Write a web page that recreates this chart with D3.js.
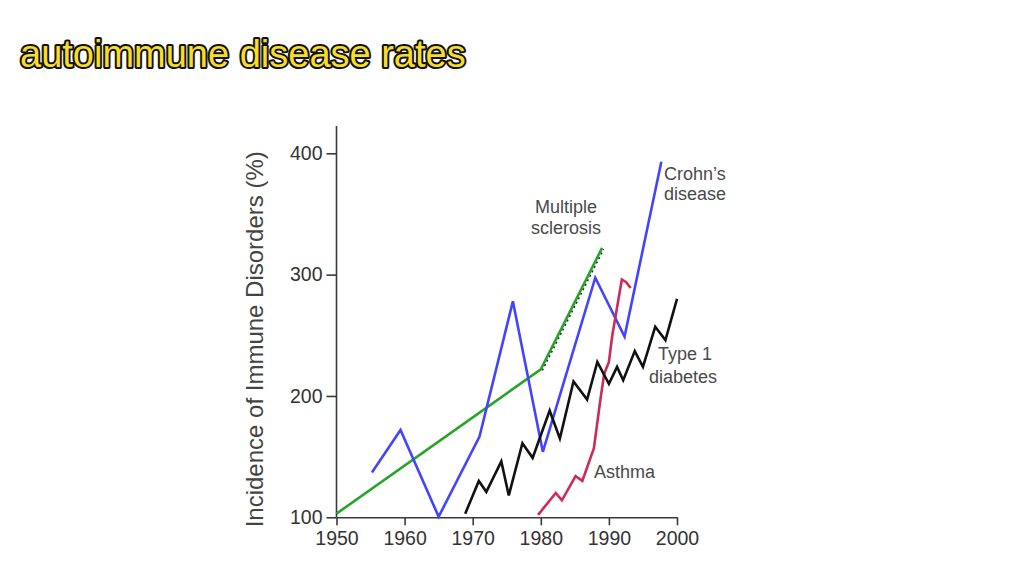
<!DOCTYPE html>
<html><head><meta charset="utf-8">
<script src="https://cdn.jsdelivr.net/npm/d3@7"></script>
<style>body{margin:0;background:#fff;}svg{display:block;}</style>
</head><body>
<svg id="c" width="1024" height="576"></svg>
<script>
const xTicks = [1950, 1960, 1970, 1980, 1990, 2000];
const yTicks = [100, 200, 300, 400];
const msYears = [1950, 1980, 1989];
const msValues = [103, 222, 322];
const crohnYears = [1955.2, 1959.4, 1965, 1971, 1975.9, 1980.3, 1988, 1992.3, 1997.7];
const crohnValues = [137, 172, 100.5, 166.5, 278, 154, 297.5, 249, 393];
const t1dYears = [1968.9, 1970.9, 1972, 1974.2, 1975.3, 1977.3, 1978.8, 1981.3, 1982.8, 1984.8, 1986.8, 1988.3, 1990.0, 1991.2, 1992.1, 1993.8, 1995.0, 1996.8, 1998.3, 2000];
const t1dValues = [103, 130, 121, 146, 118, 161, 149, 188, 165, 212, 197, 228, 210, 224, 213, 237, 224, 257, 246, 280];
const asthmaYears = [1979.6, 1982.2, 1983.1, 1985.1, 1986.1, 1987.8, 1988.7, 1989.3, 1990.0, 1990.5, 1991.9, 1992.5, 1993.2];
const asthmaValues = [102, 120, 114, 134, 130, 157, 195, 218, 228, 250, 296, 294, 289];

const svg = d3.select("#c");
const x = d3.scaleLinear().domain([1950, 2000]).range([336.5, 677]);
const y = d3.scaleLinear().domain([100, 400]).range([517.3, 153.3]);

// title
svg.append("text").attr("x", 20).attr("y", 67)
  .attr("font-family", "Liberation Sans, Arial, sans-serif").attr("font-size", 38)
  .attr("fill", "#f7dc2a").attr("stroke", "#111").attr("stroke-width", 4)
  .attr("paint-order", "stroke").attr("stroke-linejoin", "round")
  .text("autoimmune disease rates");

const axisColor = "#3a3a3a";
const fontFam = "Liberation Sans, Arial, sans-serif";

// y axis
const yAxis = svg.append("g").attr("transform", `translate(${x(1950)},0)`)
  .call(d3.axisLeft(y).tickValues(yTicks).tickSize(10).tickPadding(4).tickSizeOuter(0));
yAxis.select(".domain").remove();
yAxis.append("line").attr("x1", 0).attr("x2", 0).attr("y1", 126).attr("y2", y(100))
  .attr("stroke", axisColor).attr("stroke-width", 1.6);
// x axis
const xAxis = svg.append("g").attr("transform", `translate(0,${y(100)})`)
  .call(d3.axisBottom(x).tickValues(xTicks).tickFormat(d3.format("d")).tickSize(8).tickPadding(6).tickSizeOuter(0));
xAxis.select(".domain").attr("stroke", axisColor).attr("stroke-width", 1.6);
[yAxis, xAxis].forEach(g => {
  g.selectAll(".tick line").attr("stroke", axisColor).attr("stroke-width", 1.6);
  g.selectAll(".tick text").attr("fill", "#333").attr("font-size", 19.5).attr("font-family", fontFam);
});

svg.append("text").attr("transform", `translate(263,${(y(100)+y(400))/2 + 4}) rotate(-90)`)
  .attr("text-anchor", "middle").attr("font-family", fontFam).attr("font-size", 24).attr("fill", "#444")
  .text("Incidence of Immune Disorders (%)");

const line = d3.line().x(d => x(d[0])).y(d => y(d[1]));
const zip = (a, b) => a.map((v, i) => [v, b[i]]);

// dashed dark shadow under upper MS segment
svg.append("path").datum(zip(msYears.slice(1), msValues.slice(1)))
  .attr("d", line).attr("transform", "translate(1.5,1.2)")
  .attr("fill", "none").attr("stroke", "#222").attr("stroke-width", 1.6).attr("stroke-dasharray", "2,3");

const series = [
  {xs: msYears, ys: msValues, c: "#2aa32a"},
  {xs: crohnYears, ys: crohnValues, c: "#4444ff"},
  {xs: asthmaYears, ys: asthmaValues, c: "#cc2a5a"},
  {xs: t1dYears, ys: t1dValues, c: "#111111"},
];
series.forEach(s => {
  svg.append("path").datum(zip(s.xs, s.ys)).attr("d", line)
    .attr("fill", "none").attr("stroke", s.c).attr("stroke-width", 2.6)
    .attr("stroke-linejoin", "miter").attr("stroke-linecap", "butt");
});

const labels = [
  {t: "Crohn\u2019s", x: 664, y: 180, a: "start"},
  {t: "disease", x: 664, y: 200, a: "start"},
  {t: "Multiple", x: 566, y: 213, a: "middle"},
  {t: "sclerosis", x: 566, y: 234, a: "middle"},
  {t: "Type 1", x: 658, y: 360, a: "start"},
  {t: "diabetes", x: 649, y: 383, a: "start"},
  {t: "Asthma", x: 594, y: 478, a: "start"},
];
svg.selectAll("text.lbl").data(labels).enter().append("text").attr("class", "lbl")
  .attr("x", d => d.x).attr("y", d => d.y).attr("text-anchor", d => d.a)
  .attr("font-family", fontFam).attr("font-size", 18).attr("fill", "#4a4a4a")
  .text(d => d.t);
</script>
</body></html>
